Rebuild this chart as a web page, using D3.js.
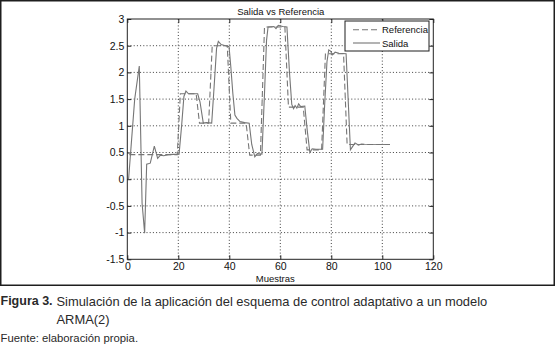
<!DOCTYPE html>
<html>
<head>
<meta charset="utf-8">
<script src="https://cdn.jsdelivr.net/npm/d3@7"></script>
<style>
  body { margin: 0; background: #fff; }
  text { font-family: "Liberation Sans", Arial, sans-serif; }
</style>
</head>
<body>
<div id="chart"></div>
<script>
// data
const refX = [0.8, 19.6, 20.8, 27, 28.3, 31.9, 33.3, 39.2, 40.6, 46.6, 48, 52.2, 53.8, 61.8, 63.2, 69, 70.5, 76.2, 77.7, 84.8, 86.2, 103];
const refY = [0.46, 0.46, 1.6, 1.6, 1.05, 1.05, 2.5, 2.5, 1.05, 1.05, 0.45, 0.45, 2.85, 2.85, 1.35, 1.35, 0.55, 0.55, 2.35, 2.35, 0.65, 0.65];

const salidaX = [0.5, 2.9, 4.7, 5.8, 6.8, 7.6, 9, 10.6, 11.9, 13, 14.3, 16, 20.3, 21.3, 22.2, 23, 24, 26, 27.6, 28.5,
    29.8, 31, 33.1, 34, 35, 35.7, 36.8, 38.5, 39.9, 40.6, 41.4, 42.2, 43, 44.2, 46, 47.8, 48.8, 50, 51, 52.8,
    53.8, 54.6, 55.2, 57.5, 58.3, 59.2, 61, 62.6, 63.6, 64.5, 65.2, 65.8, 66.5, 67.2, 68, 69.6, 70.6, 71.6, 72.5, 74,
    76.6, 77.4, 78.3, 79, 79.7, 80.5, 81.5, 83, 85.8, 86.7, 87.5, 88.2, 89.3, 90.6, 91.9, 93, 103];
const salidaY = [0, 1.5, 2.12, -0.45, -1.01, 0.28, 0.3, 0.62, 0.39, 0.45, 0.44, 0.46, 0.47, 1.0, 1.55, 1.65, 1.6, 1.6, 1.6, 1.45,
    1.05, 1.06, 1.05, 1.7, 2.45, 2.58, 2.52, 2.5, 2.48, 2.1, 1.6, 1.2, 1.14, 1.08, 1.06, 1.05, 0.65, 0.42, 0.48, 0.47,
    1.6, 2.6, 2.85, 2.86, 2.82, 2.88, 2.86, 2.85, 2.0, 1.4, 1.32, 1.38, 1.33, 1.41, 1.36, 1.37, 0.9, 0.5, 0.57, 0.56,
    0.56, 1.4, 2.2, 2.42, 2.4, 2.33, 2.38, 2.36, 2.35, 1.4, 0.55, 0.6, 0.68, 0.64, 0.66, 0.655, 0.65];

const xTicks = [0, 20, 40, 60, 80, 100, 120];
const yTicks = [-1.5, -1, -0.5, 0, 0.5, 1, 1.5, 2, 2.5, 3];
const seriesNames = ["Referencia", "Salida"];

const W = 555, H = 347;
const margin = {top: 19, right: 121.7, bottom: 87.7, left: 127.3},
    width = W - margin.left - margin.right,
    height = H - margin.top - margin.bottom;

const lineColor = "#767676";

const root = d3.select("#chart")
    .append("svg")
    .attr("width", W)
    .attr("height", H);

root.append("rect")
    .attr("width", W).attr("height", H)
    .attr("fill", "#fff");

// figure frame
root.append("rect")
    .attr("x", 0.75).attr("y", 0.75)
    .attr("width", W - 1.5).attr("height", 284.5)
    .attr("fill", "none")
    .attr("stroke", "#1e1e1e")
    .attr("stroke-width", 1.5);

const svg = root.append("g")
    .attr("transform", `translate(${margin.left},${margin.top})`);

const x = d3.scaleLinear().domain([0, 120]).range([0, width]);
const y = d3.scaleLinear().domain([-1.5, 3]).range([height, 0]);

// dotted grid
svg.append("g")
    .selectAll("line")
    .data(xTicks.slice(1, -1))
    .join("line")
    .attr("x1", d => x(d)).attr("x2", d => x(d))
    .attr("y1", 0).attr("y2", height)
    .attr("stroke", "#2a2a2a")
    .attr("stroke-width", 0.9)
    .attr("stroke-dasharray", "1,2.2");
svg.append("g")
    .selectAll("line")
    .data(yTicks.slice(1, -1))
    .join("line")
    .attr("y1", d => y(d)).attr("y2", d => y(d))
    .attr("x1", 0).attr("x2", width)
    .attr("stroke", "#2a2a2a")
    .attr("stroke-width", 0.9)
    .attr("stroke-dasharray", "1,2.2");

// axes, ticks pointing inward like matlab
const fmt = d => String(d);
const styleAxis = g => {
    g.select(".domain").remove();
    g.selectAll("line").attr("stroke", "#222");
    g.selectAll("text")
        .attr("fill", "#111")
        .style("font-size", "10.5px");
};

svg.append("g")
    .attr("transform", `translate(0,${height})`)
    .call(d3.axisBottom(x).tickValues(xTicks).tickFormat(fmt).tickSizeInner(-4).tickSizeOuter(0).tickPadding(3))
    .call(styleAxis);
svg.append("g")
    .call(d3.axisTop(x).tickValues(xTicks).tickFormat("").tickSizeInner(-4).tickSizeOuter(0))
    .call(styleAxis);
svg.append("g")
    .call(d3.axisLeft(y).tickValues(yTicks).tickFormat(fmt).tickSizeInner(-4).tickSizeOuter(0).tickPadding(3))
    .call(styleAxis);
svg.append("g")
    .attr("transform", `translate(${width},0)`)
    .call(d3.axisRight(y).tickValues(yTicks).tickFormat("").tickSizeInner(-4).tickSizeOuter(0))
    .call(styleAxis);

// plot box
svg.append("rect")
    .attr("width", width).attr("height", height)
    .attr("fill", "none")
    .attr("stroke", "#222")
    .attr("stroke-width", 1);

// lines
const line = d3.line()
    .x(d => x(d[0]))
    .y(d => y(d[1]));

svg.append("path")
    .datum(refX.map((v, i) => [v, refY[i]]))
    .attr("d", line)
    .attr("fill", "none")
    .attr("stroke", lineColor)
    .attr("stroke-width", 1.1)
    .attr("stroke-dasharray", "6,3");

svg.append("path")
    .datum(salidaX.map((v, i) => [v, salidaY[i]]))
    .attr("d", line)
    .attr("fill", "none")
    .attr("stroke", lineColor)
    .attr("stroke-width", 1.1);

// title and axis label
svg.append("text")
    .attr("x", width / 2 + 0.5).attr("y", -8)
    .attr("text-anchor", "middle")
    .attr("dominant-baseline", "central")
    .style("font-size", "9.5px")
    .attr("fill", "#111")
    .text("Salida vs Referencia");

svg.append("text")
    .attr("x", width / 2 - 5).attr("y", height + 19.5)
    .attr("text-anchor", "middle")
    .attr("dominant-baseline", "central")
    .style("font-size", "9.5px")
    .attr("fill", "#111")
    .text("Muestras");

// legend
const legend = svg.append("g")
    .attr("transform", `translate(${345 - margin.left},${21 - margin.top})`);
legend.append("rect")
    .attr("width", 84).attr("height", 30)
    .attr("fill", "#fff")
    .attr("stroke", "#1e1e1e")
    .attr("stroke-width", 1);
seriesNames.forEach((name, i) => {
    const ly = 8.7 + i * 13.3;
    legend.append("line")
        .attr("x1", 8).attr("x2", 35)
        .attr("y1", ly).attr("y2", ly)
        .attr("stroke", lineColor)
        .attr("stroke-width", 1.1)
        .attr("stroke-dasharray", i === 0 ? "6,3" : null);
    legend.append("text")
        .attr("x", 37).attr("y", ly)
        .attr("dominant-baseline", "central")
        .style("font-size", "9.5px")
        .attr("fill", "#111")
        .text(name);
});

// caption below the figure
const cap = root.append("g").attr("fill", "#2a2a2a");
const c1 = cap.append("text")
    .attr("x", 0.5).attr("y", 301)
    .attr("dominant-baseline", "central")
    .style("font-size", "12.5px");
c1.append("tspan").style("font-weight", "bold").text("Figura 3.");
c1.append("tspan").attr("x", 56.5).style("font-size", "12.9px")
    .text("Simulación de la aplicación del esquema de control adaptativo a un modelo");
cap.append("text")
    .attr("x", 56.5).attr("y", 319)
    .attr("dominant-baseline", "central")
    .style("font-size", "12.9px")
    .text("ARMA(2)");
cap.append("text")
    .attr("x", 0.5).attr("y", 338)
    .attr("dominant-baseline", "central")
    .style("font-size", "11.3px")
    .text("Fuente: elaboración propia.");
</script>
</body>
</html>
